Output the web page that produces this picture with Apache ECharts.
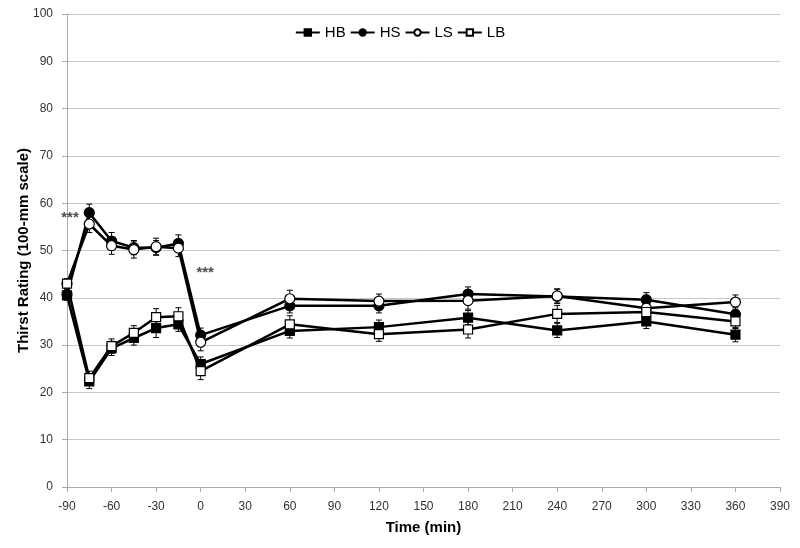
<!DOCTYPE html>
<html><head><meta charset="utf-8">
<script src="https://cdn.jsdelivr.net/npm/echarts@6/dist/echarts.min.js"></script>
<style>html,body{margin:0;padding:0;background:#fff}#c{width:800px;height:548px}</style>
</head><body><div id="c"></div>
<script>
const times = [-90, -75, -60, -45, -30, -15, 0, 60, 120, 180, 240, 300, 360];
const HB = [40.5, 22.3, 29.3, 31.5, 33.6, 34.4, 26.0, 33.0, 33.8, 35.8, 33.1, 35.0, 32.2];
const HS = [40.7, 58.0, 52.0, 50.6, 50.6, 51.5, 32.1, 38.3, 38.3, 40.8, 40.3, 39.6, 36.5];
const LS = [43.0, 55.6, 51.0, 50.2, 50.8, 50.5, 30.6, 39.8, 39.3, 39.4, 40.4, 37.8, 39.1];
const LB = [43.0, 23.0, 29.8, 32.6, 35.9, 36.1, 24.5, 34.4, 32.3, 33.3, 36.6, 37.0, 35.0];
const HB_err = [1.0, 1.5, 1.5, 1.5, 2.0, 1.5, 1.5, 1.5, 1.5, 1.5, 1.5, 1.5, 1.5];
const HS_err = [1.0, 1.8, 1.8, 1.5, 1.5, 1.8, 1.5, 1.5, 1.5, 1.5, 1.5, 1.5, 1.5];
const LS_err = [1.0, 1.8, 1.8, 1.8, 1.8, 1.8, 1.8, 1.8, 1.5, 1.8, 1.5, 1.5, 1.5];
const LB_err = [1.0, 1.5, 1.5, 1.5, 1.8, 1.8, 1.8, 1.8, 1.5, 1.8, 1.8, 1.5, 1.5];
const seriesNames = ['HB', 'HS', 'LS', 'LB'];
const xTicks = {min: -90, max: 390, interval: 30};
const yTicks = {min: 0, max: 100, interval: 10};
const annotations = [[-88, 57.0, '***'], [3, 45.2, '***']];

const FONT = "'Liberation Sans Narrow', 'Liberation Sans', sans-serif";
const vals = [HB, HS, LS, LB];
const errs = [HB_err, HS_err, LS_err, LB_err];
const symbols = ['rect', 'circle', 'circle', 'rect'];
const fills = ['#000', '#000', '#fff', '#fff'];

const chart = echarts.init(document.getElementById('c'), null, {renderer: 'canvas'});
const series = [];
seriesNames.forEach((n, i) => {
  series.push({
    type: 'custom', name: n + '_err', silent: true, z: 1,
    data: times.map((t, k) => [t, vals[i][k] - errs[i][k], vals[i][k] + errs[i][k]]),
    renderItem: (params, api) => {
      const lo = api.coord([api.value(0), api.value(1)]);
      const hi = api.coord([api.value(0), api.value(2)]);
      const w = 3;
      const st = {stroke: '#000', lineWidth: 1};
      return {type: 'group', children: [
        {type: 'line', shape: {x1: lo[0], y1: lo[1], x2: hi[0], y2: hi[1]}, style: st},
        {type: 'line', shape: {x1: lo[0]-w, y1: lo[1], x2: lo[0]+w, y2: lo[1]}, style: st},
        {type: 'line', shape: {x1: hi[0]-w, y1: hi[1], x2: hi[0]+w, y2: hi[1]}, style: st}
      ]};
    }
  });
});
seriesNames.forEach((n, i) => {
  series.push({
    type: 'line', name: n, z: 3,
    data: times.map((t, k) => [t, vals[i][k]]),
    symbol: symbols[i], symbolSize: symbols[i] === 'rect' ? 9 : 10,
    showAllSymbol: true,
    lineStyle: {color: '#000', width: 2.5},
    itemStyle: {color: fills[i], borderColor: '#000', borderWidth: 1.2},
    emphasis: {disabled: true}
  });
});
series.push({
  type: 'scatter', name: 'ann', symbolSize: 0, silent: true,
  data: annotations.map(a => ({value: [a[0], a[1]], label: {formatter: a[2]}})),
  label: {show: true, position: 'inside', fontSize: 15, fontWeight: 'bold', color: '#222', fontFamily: FONT}
});

chart.setOption({
  animation: false,
  backgroundColor: '#fff',
  grid: {left: 67, right: 20, top: 14, bottom: 61, containLabel: false, outerBoundsMode: 'none'},
  legend: {
    data: seriesNames, top: 20, left: 'center', itemGap: 4, itemWidth: 24, itemHeight: 8,
    textStyle: {fontFamily: FONT, fontSize: 15, color: '#000'}, selectedMode: false
  },
  xAxis: {
    type: 'value', min: xTicks.min, max: xTicks.max, interval: xTicks.interval,
    name: 'Time (min)', nameLocation: 'middle', nameGap: 33, nameMoveOverlap: false,
    nameTextStyle: {fontFamily: FONT, fontSize: 15, fontWeight: 'bold', color: '#000'},
    axisLine: {onZero: false, lineStyle: {color: '#aaa'}}, axisTick: {show: true, length: 5, lineStyle: {color: '#aaa'}},
    axisLabel: {fontFamily: FONT, fontSize: 12, color: '#333', margin: 14},
    splitLine: {show: false}
  },
  yAxis: {
    type: 'value', min: yTicks.min, max: yTicks.max, interval: yTicks.interval,
    name: 'Thirst Rating (100-mm scale)', nameLocation: 'middle', nameGap: 36, nameMoveOverlap: false,
    nameTextStyle: {fontFamily: FONT, fontSize: 15, fontWeight: 'bold', color: '#000'},
    axisLine: {show: true, onZero: false, lineStyle: {color: '#aaa'}}, axisTick: {show: true, length: 5, lineStyle: {color: '#aaa'}},
    axisLabel: {fontFamily: FONT, fontSize: 12, color: '#333', margin: 14},
    splitLine: {lineStyle: {color: '#c8c8c8', width: 1}}
  },
  series: series
});
</script></body></html>
